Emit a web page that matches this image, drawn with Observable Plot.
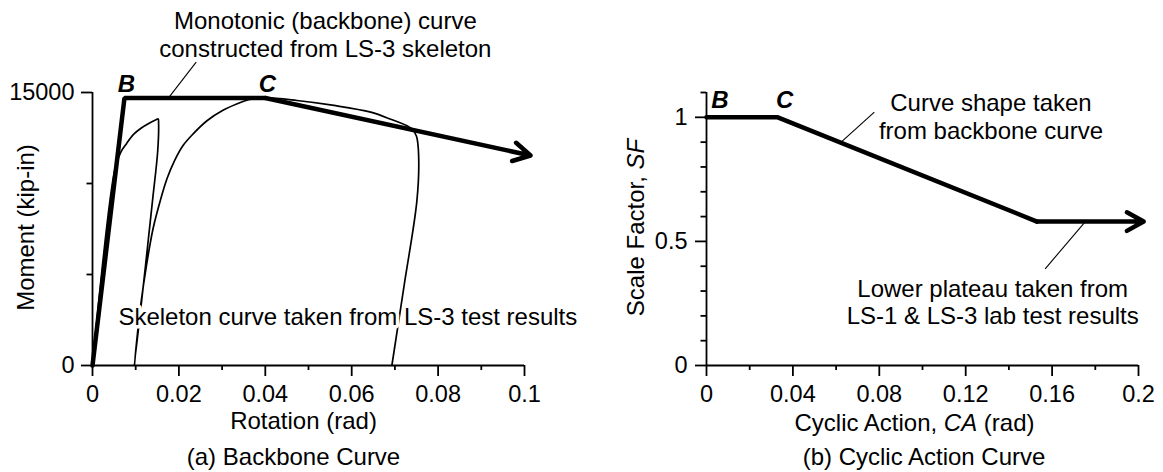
<!DOCTYPE html>
<html><head><meta charset="utf-8">
<script src="https://cdn.jsdelivr.net/npm/d3@7"></script>
<script src="https://cdn.jsdelivr.net/npm/@observablehq/plot@0.6"></script>
<style>
body{margin:0;background:#fff;}
#wrap{display:flex;width:1163px;height:472px;overflow:hidden;}
</style></head><body><div id="wrap"></div>
<script>
const FONT = '"Liberation Sans", Arial, sans-serif';

// ---------- Panel (a) data ----------
const rotMajorTicks = [0, 0.02, 0.04, 0.06, 0.08, 0.1];
const rotMinorTicks = [0.01, 0.03, 0.05, 0.07, 0.09];
const momMajorTicks = [0, 15000];
const momMinorTicks = [5000, 10000];

const backboneRot = [0, 0.0074, 0.040];
const backboneMom = [0, 14700, 14700];
const backboneTip = [0.1014, 11540];

const skeletonRot = [0, 0.0052, 0.0065, 0.0079, 0.0095, 0.0113, 0.0130, 0.0147, 0.0152, 0.0153, 0.0151, 0.0139, 0.0120, 0.0097,
  0.0103, 0.0112, 0.0125, 0.0140, 0.0157, 0.0173, 0.0190, 0.0210, 0.0233, 0.0265, 0.0301, 0.0335, 0.0361, 0.0400,
  0.0473, 0.0559, 0.0644, 0.0687, 0.0739, 0.0750, 0.0755, 0.0751, 0.0722, 0.0693];
const skeletonMom = [0, 10800, 11700, 12200, 12700, 13050, 13300, 13500, 13550, 13300, 11800, 9070, 4900, 0,
  1500, 3400, 5500, 7500, 9070, 10300, 11260, 12100, 12730, 13450, 14010, 14380, 14600, 14700,
  14560, 14290, 13920, 13560, 13010, 12600, 11500, 9070, 4500, 0];

const pointLabels = ["B", "C"];
const aPointRot = [0.0074, 0.040];
const aPointMom = [14700, 14700];

const aNoteText = ["Monotonic (backbone) curve\nconstructed from LS-3 skeleton", "Skeleton curve taken from LS-3 test results"];
const aNoteRot = [0.0539, 0.006];
const aNoteMom = [18190, 2640];
const aLeaderRot = [0.0240, 0.0176];
const aLeaderMom = [16667, 14700];

// ---------- Panel (b) data ----------
const caMajorTicks = [0, 0.04, 0.08, 0.12, 0.16, 0.2];
const caMinorTicks = [0.02, 0.06, 0.1, 0.14, 0.18];
const sfMajorTicks = [0, 0.5, 1];
const sfMinorTicks = [0.1, 0.2, 0.3, 0.4, 0.6, 0.7, 0.8, 0.9, 1.1];

const sfCurveCA = [0, 0.033, 0.153];
const sfCurveSF = [1, 1, 0.58];
const sfTip = [0.2024, 0.58];

// label anchor positions for B and C on the SF curve (label set slightly right of the point)
const bPointCA = [0.0062, 0.0362];
const bPointSF = [1, 1];

const bNoteText = ["Curve shape taken\nfrom backbone curve", "Lower plateau taken from\nLS-1 & LS-3 lab test results"];
const bNoteCA = [0.1317, 0.1325];
const bNoteSF = [1.005, 0.255];
const bLeaderCA1 = [0.0777, 0.1749];
const bLeaderSF1 = [1.0206, 0.575];
const bLeaderCA2 = [0.0622, 0.1568];
const bLeaderSF2 = [0.8990, 0.3896];

// ---------- helpers ----------
const zip2 = (xs, ys) => xs.map((x, i) => ({x, y: ys[i]}));
const fmt = d => String(d);
const AX = 1.8;
const FS = 24;

function axes(xMaj, xMin, yMaj, yMin, xMax, yMax, yPad) {
  return [
    Plot.ruleY([0], {x1: 0, x2: xMax, strokeWidth: AX}),
    Plot.ruleX([0], {y1: 0, y2: yMax, strokeWidth: AX}),
    Plot.axisX(xMaj, {tickSize: 11, tickPadding: 9, tickFormat: fmt, label: null, strokeWidth: AX, fontSize: 23.5}),
    Plot.axisX(xMin, {tickSize: 5, tickFormat: () => "", label: null, strokeWidth: AX}),
    Plot.axisY(yMaj, {tickSize: 11, tickPadding: yPad, tickFormat: fmt, label: null, strokeWidth: AX, fontSize: 23.5}),
    Plot.axisY(yMin, {tickSize: 5.5, tickFormat: () => "", label: null, strokeWidth: AX})
  ];
}

const style = {fontFamily: FONT, fontSize: FS + "px", color: "black", background: "white", overflow: "visible"};

// ---------- Panel (a) ----------
const skeleton = zip2(skeletonRot, skeletonMom);
const backbone = zip2(backboneRot, backboneMom);
const aPoints = pointLabels.map((t, i) => ({t, x: aPointRot[i], y: aPointMom[i]}));
const aNotes = aNoteText.map((t, i) => ({t, x: aNoteRot[i], y: aNoteMom[i]}));

const left = Plot.plot({
  width: 580, height: 472,
  marginTop: 92, marginBottom: 107, marginLeft: 92, marginRight: 56,
  style,
  x: {domain: [0, 0.1]},
  y: {domain: [0, 15000]},
  marks: [
    ...axes(rotMajorTicks, rotMinorTicks, momMajorTicks, momMinorTicks, 0.1, 15000, 7),
    Plot.line(skeleton, {x: "x", y: "y", curve: "catmull-rom", strokeWidth: 1.7}),
    Plot.line(backbone, {x: "x", y: "y", strokeWidth: 4.5, strokeLinejoin: "miter"}),
    Plot.arrow([{x1: backboneRot[2], y1: backboneMom[2], x2: backboneTip[0], y2: backboneTip[1]}],
      {x1: "x1", y1: "y1", x2: "x2", y2: "y2", strokeWidth: 4.5, headLength: 6.4, headAngle: 58}),
    Plot.link([{x1: aLeaderRot[0], y1: aLeaderMom[0], x2: aLeaderRot[1], y2: aLeaderMom[1]}],
      {x1: "x1", y1: "y1", x2: "x2", y2: "y2", strokeWidth: 1.1}),
    Plot.text(aPoints, {x: "x", y: "y", text: "t", dx: 2, dy: -14, fontWeight: "bold", fontStyle: "italic", fontSize: FS}),
    Plot.text([aNotes[0]], {x: "x", y: "y", text: "t", fontSize: FS, lineHeight: 1.17, lineAnchor: "middle"}),
    Plot.text([aNotes[1]], {x: "x", y: "y", text: "t", fontSize: FS, textAnchor: "start", stroke: "white", strokeWidth: 7, fill: "black"}),
    Plot.text(["Moment (kip-in)"], {frameAnchor: "left", textAnchor: "middle", lineAnchor: "middle", dx: -66, dy: -1.5, rotate: -90, fontSize: FS}),
    Plot.text(["Rotation (rad)"], {frameAnchor: "bottom", lineAnchor: "middle", dy: 56, dx: -5, fontSize: FS}),
    Plot.text(["(a) Backbone Curve"], {frameAnchor: "bottom", lineAnchor: "middle", dy: 92, dx: -15, fontSize: FS})
  ]
});

// ---------- Panel (b) ----------
const sfCurve = zip2(sfCurveCA, sfCurveSF);
const bPoints = pointLabels.map((t, i) => ({t, x: bPointCA[i], y: bPointSF[i]}));
const bNotes = bNoteText.map((t, i) => ({t, x: bNoteCA[i], y: bNoteSF[i]}));
const bLeaders = bLeaderCA1.map((x1, i) => ({x1, y1: bLeaderSF1[i], x2: bLeaderCA2[i], y2: bLeaderSF2[i]}));

const right = Plot.plot({
  width: 583, height: 472,
  marginTop: 92, marginBottom: 107, marginLeft: 126, marginRight: 25,
  style,
  x: {domain: [0, 0.2]},
  y: {domain: [0, 1.1]},
  marks: [
    ...axes(caMajorTicks, caMinorTicks, sfMajorTicks, sfMinorTicks, 0.2, 1.1, 8),
    Plot.line(sfCurve, {x: "x", y: "y", strokeWidth: 4.5, strokeLinejoin: "miter"}),
    Plot.arrow([{x1: sfCurveCA[2], y1: sfCurveSF[2], x2: sfTip[0], y2: sfTip[1]}],
      {x1: "x1", y1: "y1", x2: "x2", y2: "y2", strokeWidth: 4.5, headLength: 6.4, headAngle: 58}),
    Plot.link(bLeaders, {x1: "x1", y1: "y1", x2: "x2", y2: "y2", strokeWidth: 1.1}),
    Plot.text(bPoints, {x: "x", y: "y", text: "t", dy: -17, fontWeight: "bold", fontStyle: "italic", fontSize: FS}),
    Plot.text([bNotes[0]], {x: "x", y: "y", text: "t", fontSize: FS, lineHeight: 1.15, lineAnchor: "middle"}),
    Plot.text([bNotes[1]], {x: "x", y: "y", text: "t", fontSize: FS, lineHeight: 1.11, lineAnchor: "middle"}),
    Plot.text(["Scale Factor, SF"], {frameAnchor: "left", textAnchor: "middle", lineAnchor: "middle", dx: -70, dy: -1.5, rotate: -90, fontSize: FS}),
    Plot.text(["Cyclic Action, CA (rad)"], {frameAnchor: "bottom", lineAnchor: "middle", dy: 58, dx: -8, fontSize: FS}),
    Plot.text(["(b) Cyclic Action Curve"], {frameAnchor: "bottom", lineAnchor: "middle", dy: 92, dx: 1.5, fontSize: FS})
  ]
});

// italic parts
function italicize(svg, full, pre, ital, post) {
  d3.select(svg).selectAll("text").filter(function() { return this.textContent === full; }).each(function() {
    const t = d3.select(this);
    t.text(null);
    t.append("tspan").text(pre);
    t.append("tspan").attr("font-style", "italic").text(ital);
    if (post) t.append("tspan").text(post);
  });
}
italicize(right, "Scale Factor, SF", "Scale Factor, ", "SF", "");
italicize(right, "Cyclic Action, CA (rad)", "Cyclic Action, ", "CA", " (rad)");

document.getElementById("wrap").append(left, right);
</script></body></html>
